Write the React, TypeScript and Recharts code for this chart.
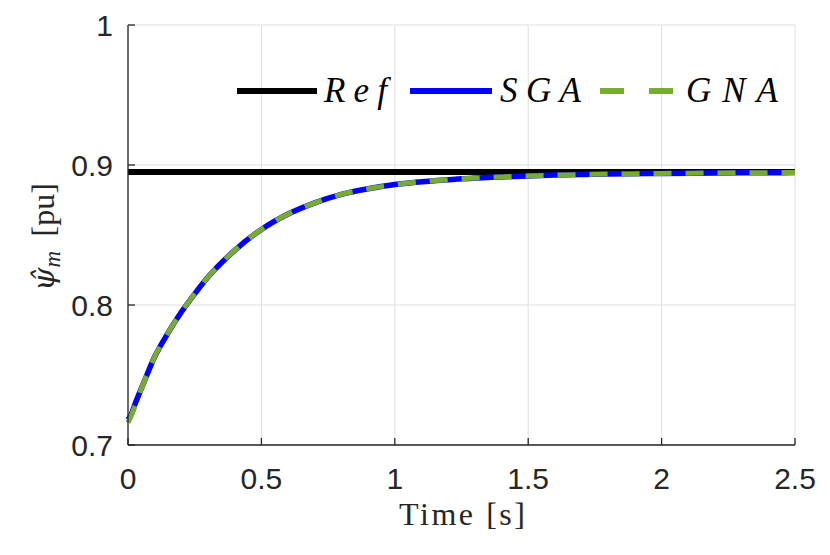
import {
  LineChart,
  Line,
  XAxis,
  YAxis,
  CartesianGrid,
  Legend,
  Label,
} from "recharts";

const time = [0, 0.01, 0.03, 0.06, 0.1, 0.15, 0.2, 0.25, 0.3, 0.4, 0.5, 0.6, 0.7, 0.8, 0.9, 1.0, 1.2, 1.4, 1.6, 1.8, 2.0, 2.2, 2.4, 2.5];
const sgaValues = [0.718, 0.721, 0.731, 0.745, 0.763, 0.78, 0.795, 0.808, 0.82, 0.839, 0.854, 0.865, 0.873, 0.879, 0.883, 0.886, 0.8895, 0.8915, 0.8928, 0.8935, 0.894, 0.8943, 0.8945, 0.8946];
const gnaValues = [0.716, 0.72, 0.73, 0.745, 0.763, 0.78, 0.795, 0.808, 0.82, 0.839, 0.854, 0.865, 0.873, 0.879, 0.883, 0.886, 0.8895, 0.8915, 0.8928, 0.8935, 0.894, 0.8943, 0.8945, 0.8946];
const refValue = 0.895;

const xTicks = [0, 0.5, 1, 1.5, 2, 2.5];
const yTicks = [0.7, 0.8, 0.9, 1];

const data = time.map((t, i) => ({
  t,
  ref: refValue,
  sga: sgaValues[i],
  gna: gnaValues[i],
}));

const AXIS = "#262626";
const sans = "Liberation Sans";
const serif = "Liberation Serif";

const fmt = (v: number) => String(Number(v.toFixed(1)));

function XTick({ x, y, payload }: any) {
  return (
    <text x={x} y={y} dy="0.71em" textAnchor="middle" fill={AXIS} style={{ fontFamily: sans, fontSize: 30 }}>
      {fmt(payload.value)}
    </text>
  );
}

function YTick({ x, y, payload }: any) {
  return (
    <text x={x} y={y} dy="0.36em" textAnchor="end" fill={AXIS} style={{ fontFamily: sans, fontSize: 30 }}>
      {fmt(payload.value)}
    </text>
  );
}

function LegendBox() {
  const t = { fontFamily: serif, fontStyle: "italic", fontSize: 35 } as const;
  return (
    <svg width={560} height={44} style={{ display: "block" }}>
      <line x1={7} x2={87} y1={21} y2={21} stroke="#000" strokeWidth={6} />
      <text x={94} y={32} style={t} textLength={63} lengthAdjust="spacing">Ref</text>
      <line x1={180} x2={262} y1={21} y2={21} stroke="#0000FF" strokeWidth={6} />
      <text x={270} y={32} style={t} textLength={81} lengthAdjust="spacing">SGA</text>
      <line x1={370} x2={394} y1={21} y2={21} stroke="#77AC30" strokeWidth={6} />
      <line x1={419} x2={443} y1={21} y2={21} stroke="#77AC30" strokeWidth={6} />
      <text x={456} y={32} style={t} textLength={92} lengthAdjust="spacing">GNA</text>
    </svg>
  );
}

export default function App() {
  return (
    <div style={{ position: "absolute", left: 0, top: 0, width: 830, height: 555, background: "#fff" }}>
      <LineChart
        width={830}
        height={555}
        data={data}
        margin={{ top: 25, right: 35, bottom: 0, left: 0 }}
      >
        <CartesianGrid stroke="#dfdfdf" strokeWidth={1} horizontalValues={yTicks} verticalValues={xTicks} />
        <XAxis
          dataKey="t"
          type="number"
          domain={[0, 2.5]}
          ticks={xTicks}
          height={110}
          tickSize={-7}
          tickMargin={30}
          stroke={AXIS}
          strokeWidth={1.3}
          tick={<XTick />}
          interval={0}
        >
          <Label
            content={() => (
              <text x={462} y={525} textAnchor="middle" fill={AXIS} style={{ fontFamily: serif, fontSize: 32 }} textLength={126} lengthAdjust="spacing">
                Time [s]
              </text>
            )}
          />
        </XAxis>
        <XAxis
          xAxisId="top"
          orientation="top"
          dataKey="t"
          type="number"
          domain={[0, 2.5]}
          ticks={xTicks}
          height={0}
          tickSize={-7}
          tick={false}
          stroke={AXIS}
          strokeWidth={1.3}
        />
        <YAxis
          type="number"
          domain={[0.7, 1]}
          ticks={yTicks}
          width={128}
          tickSize={-7}
          tickMargin={22}
          stroke={AXIS}
          strokeWidth={1.3}
          tick={<YTick />}
          interval={0}
        >
          <Label
            content={() => (
              <text transform="translate(54,237) rotate(-90)" textAnchor="middle" fill={AXIS} style={{ fontFamily: serif, fontSize: 32 }}>
                <tspan style={{ fontFamily: "DejaVu Serif", fontStyle: "italic", fontSize: 30 }}>{"\u03C8\u0302"}</tspan>
                <tspan style={{ fontStyle: "italic", fontSize: 23 }} dy={6}>m</tspan>
                <tspan dy={-6}>{"\u2009 [pu]"}</tspan>
              </text>
            )}
          />
        </YAxis>
        <YAxis
          yAxisId="right"
          orientation="right"
          type="number"
          domain={[0.7, 1]}
          ticks={yTicks}
          width={0}
          tickSize={-7}
          tick={false}
          stroke={AXIS}
          strokeWidth={1.3}
        />
        <Legend
          layout="horizontal"
          verticalAlign="middle"
          align="center"
          content={() => <LegendBox />}
          wrapperStyle={{ position: "absolute", left: 230, top: 70, width: 560, height: 44 }}
        />
        <Line dataKey="ref" stroke="#000" strokeWidth={6} dot={false} isAnimationActive={false} type="linear" />
        <Line dataKey="sga" stroke="#0000FF" strokeWidth={5.5} dot={false} isAnimationActive={false} type="monotone" />
        <Line dataKey="gna" stroke="#77AC30" strokeWidth={5} strokeDasharray="18 14" dot={false} isAnimationActive={false} type="monotone" />
      </LineChart>
    </div>
  );
}
